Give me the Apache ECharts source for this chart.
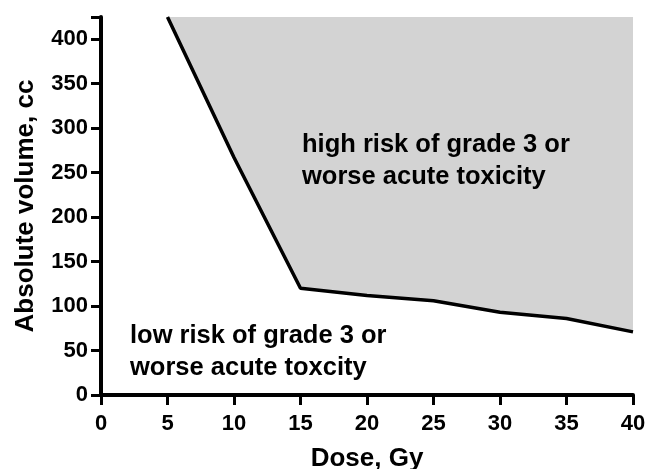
<!DOCTYPE html>
<html>
<head>
<meta charset="utf-8">
<script src="https://cdn.jsdelivr.net/npm/echarts@6/dist/echarts.min.js"></script>
<style>
html,body{margin:0;padding:0;background:#fff;}
#main{width:648px;height:469px;}
</style>
</head>
<body>
<div id="main"></div>
<script>
var dose = [5, 10, 15, 20, 25, 30, 35, 40];
var volume = [425, 267, 120, 112, 106, 93, 86, 71];
var xTicks = [0, 5, 10, 15, 20, 25, 30, 35, 40];
var yTicks = [0, 50, 100, 150, 200, 250, 300, 350, 400];
var xTitle = 'Dose, Gy';
var yTitle = 'Absolute volume, cc';
var highText = 'high risk of grade 3 or\nworse acute toxicity';
var lowText = 'low risk of grade 3 or\nworse acute toxcity';

var FONT = "'Liberation Sans', Arial, sans-serif";
var chart = echarts.init(document.getElementById('main'), null, {renderer: 'canvas'});
var pts = dose.map(function (d, i) { return [d, volume[i]]; });
chart.setOption({
  animation: false,
  backgroundColor: '#fff',
  grid: {left: 101, right: 15, top: 17, bottom: 74, containLabel: false, outerBoundsMode: 'none'},
  xAxis: {
    type: 'value', min: 0, max: 40, interval: 5,
    name: xTitle, nameLocation: 'middle', nameGap: 51,
    nameTextStyle: {fontFamily: FONT, fontWeight: 'bold', fontSize: 26, color: '#000'},
    axisLine: {show: true, onZero: false, lineStyle: {color: '#000', width: 4}},
    axisTick: {show: true, length: 10, lineStyle: {color: '#000', width: 3}},
    axisLabel: {fontFamily: FONT, fontWeight: 'bold', fontSize: 22, color: '#000', margin: 18,
      formatter: function (v) { return xTicks.indexOf(v) >= 0 ? String(v) : ''; }},
    splitLine: {show: false}
  },
  yAxis: {
    type: 'value', min: 0, max: 425, interval: 50,
    name: yTitle, nameLocation: 'middle', nameGap: 62, nameRotate: 90,
    nameTextStyle: {fontFamily: FONT, fontWeight: 'bold', fontSize: 26, color: '#000'},
    axisLine: {show: true, lineStyle: {color: '#000', width: 4}},
    axisTick: {show: true, length: 10, lineStyle: {color: '#000', width: 3}},
    axisLabel: {fontFamily: FONT, fontWeight: 'bold', fontSize: 22, color: '#000', margin: 13,
      formatter: function (v) { return yTicks.indexOf(v) >= 0 ? String(v) : ''; }},
    splitLine: {show: false}
  },
  series: [{
    type: 'line',
    data: pts,
    showSymbol: false,
    symbol: 'none',
    lineStyle: {color: '#000', width: 3.5},
    areaStyle: {origin: 'end', color: '#d3d3d3', opacity: 1},
    z: 2
  }],
  graphic: [
    {type: 'text', left: 302, top: 129, z: 10,
      style: {text: highText, fontFamily: FONT, fontWeight: 'bold', fontSize: 25.5, lineHeight: 32, fill: '#000'}},
    {type: 'text', left: 130, top: 320, z: 10,
      style: {text: lowText, fontFamily: FONT, fontWeight: 'bold', fontSize: 25.5, lineHeight: 32, fill: '#000'}}
  ]
});
</script>
</body>
</html>
